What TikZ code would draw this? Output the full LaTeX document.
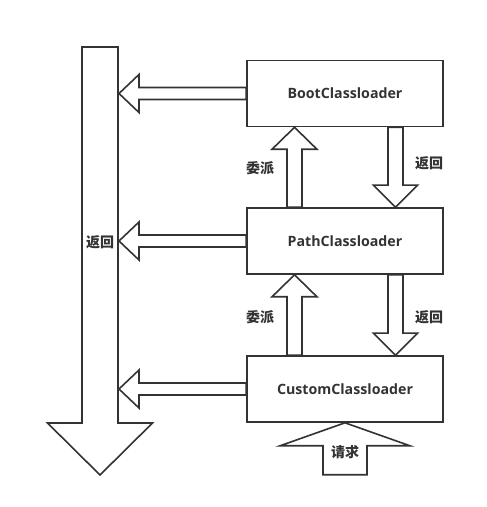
\documentclass[tikz,border=0pt]{standalone}
\usepackage{fontspec}
\setmainfont{Open Sans}
\newfontfamily\cjk{Noto Sans CJK SC}
\usepackage{tikz}
\usetikzlibrary{calc,positioning}
\definecolor{lnGray}{RGB}{51,51,51}

\tikzset{
  blk/.style={draw=lnGray, line width=1.6pt, fill=white, line join=miter},
  loader/.style={draw=lnGray, line width=1.6pt, fill=white, minimum width=196pt,
    minimum height=66pt, inner sep=0pt, text=lnGray,
    font=\fontsize{14.2}{16}\selectfont\bfseries},
  lbl/.style={font=\cjk\fontsize{14}{16}\selectfont\bfseries, text=lnGray, inner sep=1pt}
}
% block arrows: #1 start, #2 tip, #3 half shaft, #4 half head, #5 head length
\newcommand{\blockup}[5]{%
  \draw[blk] let \p1=(#1), \p2=(#2) in
    (\x1-#3,\y1) -- (\x1-#3,\y2-#5) -- (\x1-#4,\y2-#5) -- (\x1,\y2)
    -- (\x1+#4,\y2-#5) -- (\x1+#3,\y2-#5) -- (\x1+#3,\y1) -- cycle;}
\newcommand{\blockdown}[5]{%
  \draw[blk] let \p1=(#1), \p2=(#2) in
    (\x1-#3,\y1) -- (\x1-#3,\y2+#5) -- (\x1-#4,\y2+#5) -- (\x1,\y2)
    -- (\x1+#4,\y2+#5) -- (\x1+#3,\y2+#5) -- (\x1+#3,\y1) -- cycle;}
\newcommand{\blockleft}[5]{%
  \draw[blk] let \p1=(#1), \p2=(#2) in
    (\x1,\y1+#3) -- (\x2+#5,\y1+#3) -- (\x2+#5,\y1+#4) -- (\x2,\y1)
    -- (\x2+#5,\y1-#4) -- (\x2+#5,\y1-#3) -- (\x1,\y1-#3) -- cycle;}

\begin{document}
\begin{tikzpicture}[x=1pt, y=1pt]
\useasboundingbox (0,0) rectangle (487,507);

% loaders
\path (345,413.5) node[loader] (boot) {}
      (345,266) node[loader] (path) {}
      (345,118) node[loader] (custom) {};

% big return arrow (left)
\coordinate (bigtop) at (100,460);
\coordinate (bigtip) at (100,32);
\blockdown{bigtop}{bigtip}{18}{52.5}{52}
\node[lbl] (ret) at (100,265) {返回};

% arrows into the big one
\foreach \b in {boot,path,custom} {
  \coordinate (\b tip) at (119,0 |- \b.west);
  \blockleft{\b.west}{\b tip}{6}{19}{20}
}

% delegate (up) and return (down)
\coordinate (up1) at ($(path.north)+(-50.5,0)$);
\coordinate (up1t) at ($(boot.south)+(-50.5,0)$);
\blockup{up1}{up1t}{7.5}{22.5}{22}
\coordinate (up2) at ($(custom.north)+(-50.5,0)$);
\coordinate (up2t) at ($(path.south)+(-50.5,0)$);
\blockup{up2}{up2t}{7.5}{22.5}{22}
\coordinate (dn1) at ($(boot.south)+(50.5,0)$);
\coordinate (dn1t) at ($(path.north)+(50.5,0)$);
\blockdown{dn1}{dn1t}{7.5}{22}{22}
\coordinate (dn2) at ($(path.south)+(50.5,0)$);
\coordinate (dn2t) at ($(custom.north)+(50.5,0)$);
\blockdown{dn2}{dn2t}{7.5}{22}{22}

% request arrow
\coordinate (req) at ($(custom.south)+(0,-52)$);
\blockup{req}{custom.south}{22}{65}{23}

% redraw loaders on top
\node[loader] at (boot) {BootClassloader};
\node[loader] at (path) {PathClassloader};
\node[loader] at (custom) {CustomClassloader};

% labels
\node[lbl] (dp1) at (260,339) {委派};
\node[lbl] (dp2) at (260,190) {委派};
\node[lbl] (rt1) at (429,344) {返回};
\node[lbl] (rt2) at (429,190) {返回};
\node[lbl] (rq) at (345,55) {请求};
\end{tikzpicture}
\end{document}
